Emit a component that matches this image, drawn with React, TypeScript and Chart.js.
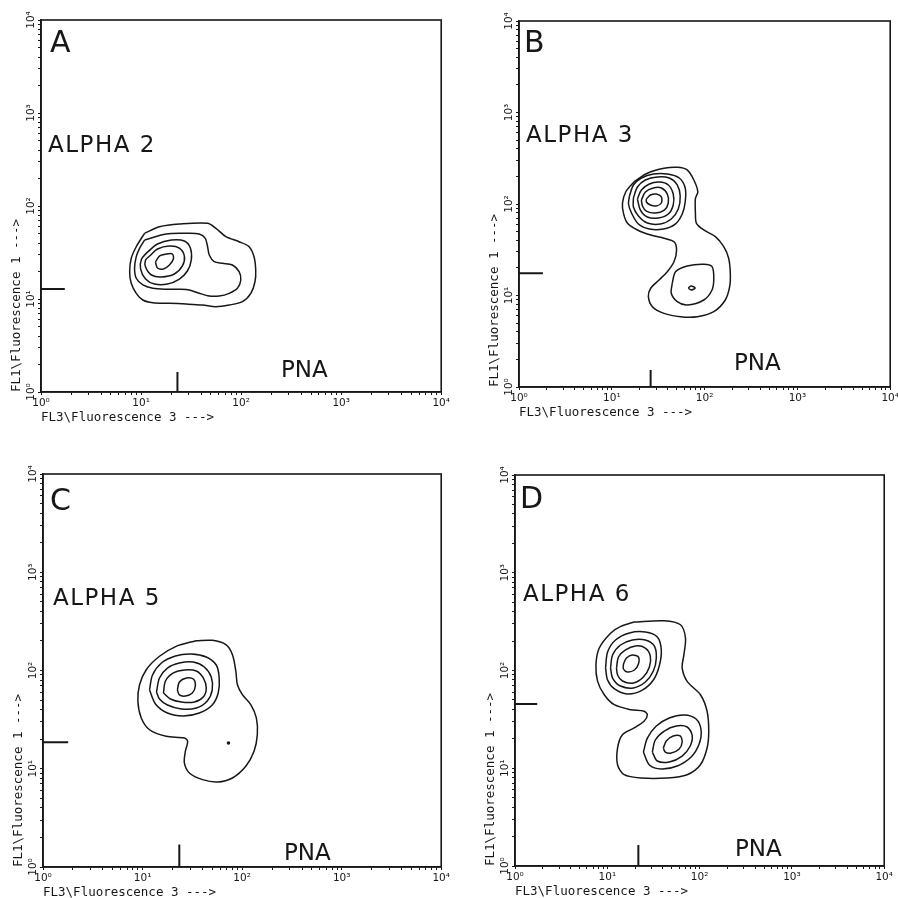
import React, { useEffect, useRef } from "react";
import { Chart, registerables } from "chart.js";

Chart.register(...registerables);

type Pt = [number, number]; // [log10 FL3, log10 FL1]

// ---------- axis data ----------
const decadeExponents = [0, 1, 2, 3, 4];
const tickLabels = ["10⁰", "10¹", "10²", "10³", "10⁴"];
const minorMultipliers = [1, 2, 3, 4, 5, 6, 7, 8, 9];
const xAxisTitle = "FL3\\Fluorescence 3 --->";
const yAxisTitle = "FL1\\Fluorescence 1 --->";

// ---------- panel texts ----------
const panelLetters = ["A", "B", "C", "D"];
const antibodyLabels = ["ALPHA 2", "ALPHA 3", "ALPHA 5", "ALPHA 6"];
const markerLabel = "PNA";

// ---------- gate markers (fluorescence units) ----------
const fl3Gates = [23.1, 26.2, 23.4, 21.7];
const fl1Gates = [12.8, 17.5, 18.6, 45.4];
const fl1GateMarkEnd = [1.73, 1.81, 1.79, 1.74];
const fl3GateMarkEnd = [1.64, 1.53, 1.69, 1.64];

// ---------- contour levels (log10 units) ----------
const alpha2Contours: Pt[][] = [
  [[1.035,1.706],[1.184,1.777],[1.383,1.806],[1.665,1.814],[1.748,1.760],[1.848,1.670],[1.980,1.616],[2.080,1.562],[2.129,1.455],[2.146,1.312],[2.139,1.186],[2.097,1.061],[2.013,0.971],[1.881,0.935],[1.748,0.917],[1.615,0.935],[1.450,0.946],[1.284,0.954],[1.117,0.960],[1.018,0.989],[0.952,1.061],[0.902,1.169],[0.886,1.294],[0.902,1.438],[0.952,1.562]],
  [[1.035,1.634],[1.251,1.699],[1.450,1.706],[1.582,1.699],[1.642,1.652],[1.665,1.562],[1.682,1.473],[1.731,1.401],[1.814,1.384],[1.913,1.366],[1.980,1.294],[1.997,1.204],[1.963,1.115],[1.881,1.061],[1.781,1.032],[1.682,1.032],[1.582,1.061],[1.483,1.097],[1.383,1.104],[1.251,1.104],[1.117,1.115],[1.018,1.151],[0.952,1.223],[0.935,1.330],[0.952,1.455],[0.985,1.545]],
  [[1.065,1.505],[1.164,1.591],[1.303,1.634],[1.433,1.624],[1.493,1.548],[1.502,1.419],[1.463,1.301],[1.383,1.215],[1.264,1.161],[1.134,1.161],[1.045,1.215],[0.995,1.323],[1.005,1.430]],
  [[1.085,1.462],[1.164,1.538],[1.284,1.570],[1.383,1.548],[1.433,1.462],[1.413,1.355],[1.333,1.269],[1.204,1.237],[1.104,1.258],[1.045,1.344],[1.045,1.419]],
  [[1.144,1.398],[1.184,1.462],[1.254,1.484],[1.313,1.484],[1.323,1.430],[1.284,1.366],[1.224,1.323],[1.164,1.333]],
];

const alpha3Contours: Pt[][] = [
  [[1.241,2.244],[1.383,2.336],[1.562,2.390],[1.705,2.401],[1.812,2.372],[1.884,2.262],[1.927,2.134],[1.901,2.062],[1.901,1.898],[1.912,1.789],[1.991,1.716],[2.116,1.643],[2.206,1.533],[2.259,1.407],[2.277,1.243],[2.270,1.096],[2.223,0.951],[2.099,0.823],[1.920,0.768],[1.741,0.768],[1.562,0.805],[1.437,0.878],[1.394,0.987],[1.419,1.079],[1.509,1.169],[1.598,1.260],[1.670,1.369],[1.698,1.497],[1.670,1.588],[1.562,1.625],[1.419,1.661],[1.276,1.716],[1.169,1.789],[1.126,1.898],[1.115,2.008],[1.151,2.134]],
  [[1.190,2.087],[1.233,2.208],[1.319,2.284],[1.448,2.328],[1.598,2.328],[1.727,2.284],[1.791,2.175],[1.791,2.022],[1.759,1.891],[1.684,1.781],[1.555,1.727],[1.405,1.727],[1.287,1.781],[1.212,1.902],[1.180,2.000]],
  [[1.233,2.066],[1.276,2.186],[1.362,2.262],[1.491,2.295],[1.619,2.284],[1.705,2.208],[1.737,2.087],[1.716,1.945],[1.641,1.836],[1.523,1.781],[1.383,1.792],[1.287,1.869],[1.233,1.967]],
  [[1.276,2.055],[1.319,2.153],[1.405,2.219],[1.512,2.240],[1.609,2.208],[1.662,2.109],[1.662,1.989],[1.609,1.891],[1.501,1.847],[1.383,1.858],[1.308,1.934]],
  [[1.319,2.044],[1.362,2.131],[1.448,2.175],[1.534,2.175],[1.598,2.109],[1.609,2.011],[1.566,1.934],[1.469,1.902],[1.373,1.923],[1.330,1.978]],
  [[1.373,2.055],[1.416,2.098],[1.480,2.109],[1.534,2.077],[1.534,2.011],[1.480,1.978],[1.416,1.989],[1.373,2.022]],
  [[1.651,1.133],[1.687,1.260],[1.812,1.322],[1.991,1.341],[2.080,1.315],[2.099,1.188],[2.080,1.060],[1.991,0.951],[1.812,0.896],[1.705,0.932],[1.641,1.024]],
  [[1.823,1.082],[1.855,1.104],[1.898,1.082],[1.855,1.060]],
];

const alpha5Contours: Pt[][] = [
  [[1.537,2.303],[1.703,2.307],[1.837,2.263],[1.903,2.161],[1.937,1.992],[1.953,1.855],[2.003,1.754],[2.087,1.652],[2.143,1.517],[2.153,1.347],[2.120,1.178],[2.037,1.025],[1.903,0.906],[1.753,0.865],[1.603,0.889],[1.470,0.957],[1.420,1.059],[1.430,1.178],[1.453,1.279],[1.420,1.313],[1.237,1.330],[1.070,1.397],[0.987,1.517],[0.953,1.687],[0.970,1.855],[1.037,2.008],[1.170,2.145],[1.337,2.246]],
  [[1.07,1.802],[1.10,1.954],[1.19,2.076],[1.33,2.148],[1.49,2.168],[1.64,2.137],[1.74,2.056],[1.77,1.924],[1.76,1.771],[1.70,1.649],[1.57,1.567],[1.41,1.537],[1.25,1.567],[1.13,1.659]],
  [[1.14,1.781],[1.17,1.924],[1.25,2.025],[1.37,2.076],[1.51,2.086],[1.62,2.036],[1.69,1.934],[1.70,1.802],[1.65,1.690],[1.54,1.618],[1.39,1.608],[1.25,1.649],[1.17,1.710]],
  [[1.21,1.771],[1.23,1.893],[1.31,1.975],[1.42,2.005],[1.54,1.995],[1.61,1.924],[1.64,1.822],[1.61,1.730],[1.52,1.679],[1.39,1.679],[1.28,1.710]],
  [[1.35,1.802],[1.37,1.883],[1.44,1.924],[1.51,1.913],[1.53,1.842],[1.50,1.771],[1.43,1.740],[1.37,1.751]],
];
const alpha5Dots: Pt[] = [[1.863, 1.262]];

const alpha6Contours: Pt[][] = [
  [[1.291,2.496],[1.614,2.509],[1.793,2.468],[1.847,2.332],[1.830,2.162],[1.811,2.026],[1.865,1.889],[2.009,1.752],[2.081,1.583],[2.099,1.378],[2.081,1.207],[2.009,1.036],[1.865,0.934],[1.650,0.900],[1.362,0.900],[1.183,0.934],[1.111,1.036],[1.111,1.207],[1.164,1.343],[1.291,1.412],[1.398,1.480],[1.434,1.548],[1.398,1.583],[1.254,1.599],[1.075,1.650],[0.967,1.752],[0.895,1.889],[0.877,2.059],[0.913,2.230],[1.038,2.384],[1.146,2.452]],
  [[0.981,2.026],[1.003,2.189],[1.089,2.312],[1.240,2.384],[1.412,2.394],[1.542,2.343],[1.585,2.210],[1.563,2.046],[1.499,1.903],[1.380,1.800],[1.218,1.760],[1.078,1.811],[1.003,1.903]],
  [[1.035,2.026],[1.057,2.159],[1.143,2.261],[1.272,2.312],[1.412,2.312],[1.509,2.251],[1.531,2.128],[1.499,1.995],[1.412,1.882],[1.283,1.821],[1.143,1.841],[1.057,1.923]],
  [[1.100,2.026],[1.121,2.138],[1.197,2.210],[1.305,2.251],[1.412,2.230],[1.466,2.148],[1.456,2.036],[1.391,1.933],[1.283,1.872],[1.164,1.893],[1.111,1.954]],
  [[1.175,2.066],[1.208,2.128],[1.272,2.159],[1.337,2.138],[1.337,2.066],[1.294,2.005],[1.218,1.985],[1.175,2.015]],
  [[1.391,1.166],[1.434,1.309],[1.531,1.432],[1.671,1.514],[1.833,1.545],[1.962,1.504],[2.016,1.391],[1.995,1.248],[1.908,1.115],[1.757,1.023],[1.585,0.992],[1.456,1.033]],
  [[1.488,1.166],[1.520,1.289],[1.617,1.381],[1.747,1.432],[1.865,1.422],[1.919,1.340],[1.898,1.228],[1.811,1.125],[1.671,1.064],[1.542,1.074]],
  [[1.607,1.207],[1.639,1.279],[1.714,1.330],[1.790,1.330],[1.811,1.269],[1.779,1.197],[1.693,1.156],[1.628,1.166]],
];

const panelContours = [alpha2Contours, alpha3Contours, alpha5Contours, alpha6Contours];
const panelDots: Pt[][] = [[], [], alpha5Dots, []];

// ---------- layout (pixels / placement only) ----------
const PANELS = [
  { plot: { l: 41, t: 20, r: 443, b: 392 }, letterAt: [0.09, 3.656], labelAt: [0.07, 2.581], pnaAt: [2.398, 0.161] },
  { plot: { l: 519, t: 21, r: 892, b: 387 }, letterAt: [0.054, 3.661], labelAt: [0.075, 2.678], pnaAt: [2.316, 0.186] },
  { plot: { l: 43, t: 474, r: 443, b: 867 }, letterAt: [0.07, 3.634], labelAt: [0.1, 2.667], pnaAt: [2.42, 0.071] },
  { plot: { l: 515, t: 475, r: 886, b: 866 }, letterAt: [0.054, 3.662], labelAt: [0.086, 2.711], pnaAt: [2.383, 0.102] },
];
const Y_AXIS_W = 41;
const X_AXIS_H = 57;
const PAD_TOP = 20;
const PAD_RIGHT = 9;
const INK = "#171717";
const SANS = '"DejaVu Sans", sans-serif';
const MONO = '"DejaVu Sans Mono", monospace';

const tickValues: number[] = [];
decadeExponents.slice(0, -1).forEach((e) =>
  minorMultipliers.forEach((m) => tickValues.push(m * Math.pow(10, e)))
);
tickValues.push(Math.pow(10, decadeExponents[decadeExponents.length - 1]));

function tickCallback(value: number | string) {
  const v = Number(value);
  const e = Math.round(Math.log10(v));
  if (Math.abs(Math.pow(10, e) - v) < 1e-9 * v) {
    const i = decadeExponents.indexOf(e);
    return i >= 0 ? tickLabels[i] : "";
  }
  return "";
}

const toXY = ([a, b]: Pt) => ({ x: Math.pow(10, a), y: Math.pow(10, b) });

const framePlugin = {
  id: "frame",
  afterDatasetsDraw(chart: any) {
    const { ctx, chartArea: a } = chart;
    ctx.save();
    ctx.strokeStyle = INK;
    ctx.lineWidth = 1.6;
    ctx.strokeRect(a.left, a.top, a.right - a.left, a.bottom - a.top);
    ctx.restore();
  },
};

const textPlugin = {
  id: "panelText",
  afterDatasetsDraw(chart: any, _args: any, opts: any) {
    const { ctx } = chart;
    const xs = chart.scales.x;
    const ys = chart.scales.y;
    const at = (p: number[]) => [xs.getPixelForValue(Math.pow(10, p[0])), ys.getPixelForValue(Math.pow(10, p[1]))];
    ctx.save();
    ctx.fillStyle = INK;
    ctx.textAlign = "left";
    ctx.textBaseline = "alphabetic";
    let [x, y] = at(opts.letterAt);
    ctx.font = `30px ${SANS}`;
    ctx.fillText(opts.letter, x, y);
    [x, y] = at(opts.labelAt);
    ctx.font = `23px ${SANS}`;
    try { (ctx as any).letterSpacing = "1.5px"; } catch (e) {}
    ctx.fillText(opts.label, x, y);
    try { (ctx as any).letterSpacing = "0px"; } catch (e) {}
    [x, y] = at(opts.pnaAt);
    ctx.font = `23px ${SANS}`;
    ctx.fillText(opts.pna, x, y);
    ctx.restore();
  },
};

function Panel({ idx }: { idx: number }) {
  const ref = useRef<HTMLCanvasElement>(null);
  const p = PANELS[idx];
  const left = p.plot.l - Y_AXIS_W;
  const top = p.plot.t - PAD_TOP;
  const width = p.plot.r - p.plot.l + Y_AXIS_W + PAD_RIGHT;
  const height = p.plot.b - p.plot.t + PAD_TOP + X_AXIS_H;

  useEffect(() => {
    if (!ref.current) return;
    const contourSets = panelContours[idx].map((ring) => ({
      data: [...ring, ring[0]].map(toXY),
      showLine: true,
      borderColor: INK,
      borderWidth: 1.5,
      pointRadius: 0,
      tension: 0.3,
      fill: false,
    }));
    const dotSets = panelDots[idx].length
      ? [{ data: panelDots[idx].map(toXY), showLine: false, pointRadius: 1.8, pointBackgroundColor: INK, pointBorderWidth: 0 }]
      : [];
    const gateSets = [
      { data: [{ x: 1, y: fl1Gates[idx] }, { x: fl1GateMarkEnd[idx], y: fl1Gates[idx] }], showLine: true, borderColor: INK, borderWidth: 2, pointRadius: 0, tension: 0 },
      { data: [{ x: fl3Gates[idx], y: 1 }, { x: fl3Gates[idx], y: fl3GateMarkEnd[idx] }], showLine: true, borderColor: INK, borderWidth: 2, pointRadius: 0, tension: 0 },
    ];

    const axisCommon = {
      type: "logarithmic" as const,
      min: 1,
      max: 10000,
      afterBuildTicks: (scale: any) => {
        scale.ticks = tickValues.map((v) => ({ value: v }));
      },
      border: { display: true, color: INK, width: 1.6 },
      grid: { display: true, drawOnChartArea: false, drawTicks: true, tickLength: 3, color: INK, tickColor: INK, tickWidth: 1 },
    };

    const chart = new Chart(ref.current, {
      type: "scatter",
      data: { datasets: [...contourSets, ...dotSets, ...gateSets] as any },
      options: {
        animation: false,
        responsive: false,
        devicePixelRatio: 1,
        events: [],
        layout: { padding: { top: PAD_TOP, right: PAD_RIGHT, left: 0, bottom: 0 } },
        plugins: {
          legend: { display: false },
          tooltip: { enabled: false },
          title: { display: false },
          panelText: {
            letter: panelLetters[idx],
            label: antibodyLabels[idx],
            pna: markerLabel,
            letterAt: p.letterAt,
            labelAt: p.labelAt,
            pnaAt: p.pnaAt,
          },
        } as any,
        scales: {
          x: {
            ...axisCommon,
            position: "bottom",
            afterFit: (s: any) => { s.height = X_AXIS_H; },
            ticks: { autoSkip: false, minRotation: 0, maxRotation: 0, padding: 2, color: INK, font: { family: SANS, size: 10.5 }, callback: tickCallback },
            title: { display: true, text: xAxisTitle, align: "start", color: INK, font: { family: MONO, size: 12.5 }, padding: { top: 0, bottom: 24 } },
          },
          y: {
            ...axisCommon,
            position: "left",
            afterFit: (s: any) => { s.width = Y_AXIS_W; },
            ticks: { autoSkip: false, minRotation: 90, maxRotation: 90, crossAlign: "center", padding: -2, color: INK, font: { family: SANS, size: 10.5 }, callback: tickCallback },
            title: { display: true, text: yAxisTitle, align: "start", color: INK, font: { family: MONO, size: 12.5 }, padding: { top: 9, bottom: 0 } },
          },
        } as any,
      },
      plugins: [framePlugin, textPlugin],
    });
    return () => chart.destroy();
  }, [idx]);

  return (
    <canvas
      ref={ref}
      width={width}
      height={height}
      style={{ position: "absolute", left, top, width, height }}
    />
  );
}

export default function App() {
  return (
    <div style={{ position: "fixed", left: 0, top: 0, width: 898, height: 898, background: "#ffffff", overflow: "hidden" }}>
      {PANELS.map((_, i) => (
        <Panel key={i} idx={i} />
      ))}
    </div>
  );
}
